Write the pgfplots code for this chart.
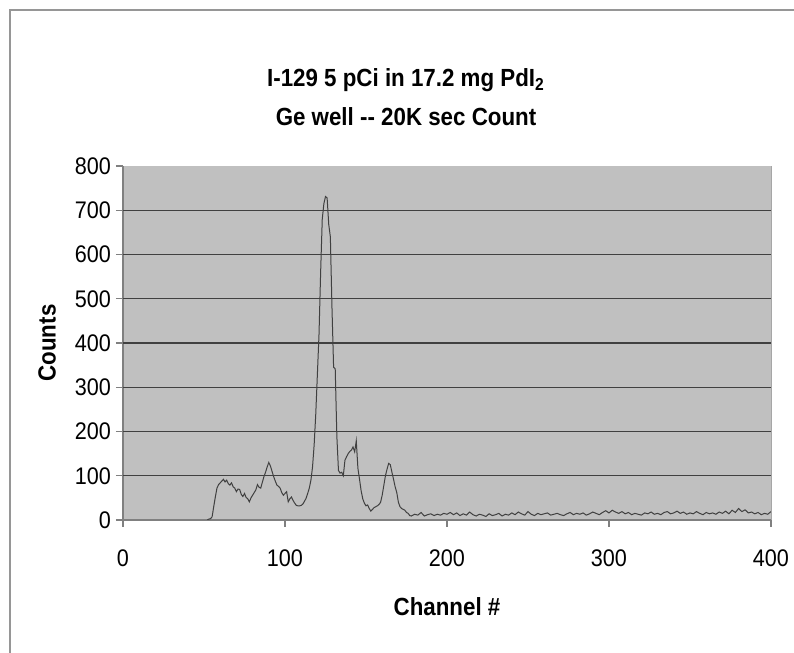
\documentclass[border=0pt]{standalone}
\usepackage{fontspec}
\setmainfont[FakeStretch=0.9]{Liberation Sans}
\usepackage{pgfplots}
\pgfplotsset{compat=1.18}
\definecolor{plotbg}{RGB}{192,192,192}
\definecolor{framegray}{RGB}{150,150,150}

\begin{document}
\begin{tikzpicture}
\begin{axis}[
    at={(0,0)}, anchor=south west,
    scale only axis,
    width=324pt, height=177pt,
    xmin=0, xmax=400, ymin=0, ymax=800,
    xtick={0,100,...,400}, ytick={0,100,...,800},
    extra y ticks={100,200,...,700},
    extra y tick labels={},
    extra y tick style={ymajorgrids=true, major tick length=0pt},
    axis lines=left,
    axis line style={-, draw=gray, line width=0.6pt},
    axis background/.style={fill=plotbg},
    major grid style={black!75, line width=0.7pt},
    tick align=outside,
    major tick length=3.5pt,
    tick style={gray, line width=0.6pt},
    ticklabel style={font=\fontsize{12}{14}\selectfont},
    /pgf/number format/assume math mode=true,
    xticklabel style={yshift=-8pt},
    yticklabel style={xshift=1pt},
    xlabel={\bfseries Channel \#},
    ylabel={\bfseries Counts},
    label style={font=\fontsize{12.4}{14}\selectfont},
    xlabel style={at={(axis description cs:0.5,0)}, anchor=center, yshift=-43.5pt},
    ylabel style={at={(axis description cs:-0.117,0.5)}, anchor=center},
    clip=true,
]
\addplot[black!75, line width=0.5pt] coordinates {
(52,0) (53,2) (54,3) (55,7) (56,30) (57,52) (58,72) (59,80) (60,84) (61,88)
(62,92) (63,86) (64,90) (65,82) (66,79) (67,84) (68,75) (69,72) (70,64) (71,70)
(72,69) (73,58) (74,53) (75,60) (76,51) (77,48) (78,41) (79,50) (80,56) (81,62)
(82,68) (83,80) (84,74) (85,72) (86,85) (87,98) (88,108) (89,120) (90,130) (91,122)
(92,110) (93,98) (94,88) (95,79) (96,76) (97,72) (98,62) (99,56) (100,60) (101,64)
(102,41) (103,48) (104,52) (105,44) (106,38) (107,33) (108,32) (109,32) (110,33) (111,36)
(112,42) (113,49) (114,60) (115,72) (116,90) (117,120) (118,170) (119,240) (120,330) (121,420)
(122,560) (123,680) (124,715) (125,731) (126,728) (127,668) (128,640) (129,480) (130,345) (131,342)
(132,190) (133,112) (134,106) (135,108) (136,100) (137,135) (138,143) (139,150) (140,155) (141,158)
(142,165) (143,154) (144,179) (145,117) (146,92) (147,66) (148,48) (149,38) (150,32) (151,34)
(152,26) (153,20) (154,24) (155,28) (156,30) (157,32) (158,35) (159,40) (160,56) (161,78)
(162,100) (163,115) (164,128) (165,125) (166,108) (167,92) (168,75) (169,62) (170,40) (171,30)
(172,26) (173,24) (174,22) (175,17) (176,15) (177,10) (178,9)
(180,13) (182,11) (184,17) (186,9) (188,12) (190,14) (192,10) (194,13) (196,11) (198,15)
(200,13) (202,17) (204,12) (206,16) (208,10) (210,14) (212,11) (214,18) (216,12) (218,9)
(220,13) (222,11) (224,8) (226,14) (228,10) (230,12) (232,15) (234,9) (236,13) (238,11)
(240,16) (242,12) (244,18) (246,14) (248,11) (250,19) (252,13) (254,10) (256,15) (258,12)
(260,14) (262,16) (264,11) (266,13) (268,15) (270,12) (272,10) (274,14) (276,17) (278,12)
(280,15) (282,13) (284,16) (286,11) (288,14) (290,18) (292,15) (294,12) (296,17) (298,21)
(300,16) (302,22) (304,18) (306,15) (308,19) (310,14) (312,17) (314,12) (316,15) (318,13)
(320,11) (322,16) (324,14) (326,18) (328,13) (330,15) (332,12) (334,17) (336,19) (338,14)
(340,16) (342,20) (344,15) (346,18) (348,13) (350,16) (352,14) (354,19) (356,15) (358,12)
(360,17) (362,14) (364,16) (366,13) (368,18) (370,15) (372,20) (374,14) (376,22) (378,17)
(380,26) (382,19) (384,23) (386,16) (388,18) (390,14) (392,17) (394,12) (396,15) (398,13)
(400,19)
};
\end{axis}
% light right border of the plot area
\draw[black!35, line width=0.5pt] (324pt,0pt) -- (324pt,177pt);
% chart frame (top and left visible)
\draw[framegray, line width=0.8pt] (-56.5pt,-70pt) -- (-56.5pt,255pt) -- (340pt,255pt);
% title
\node[font=\bfseries\fontsize{12.4}{14}\selectfont] at (141.5pt,220pt) {I-129 5 pCi in 17.2 mg PdI\textsubscript{2}};
\node[font=\bfseries\fontsize{12.4}{14}\selectfont] at (141.5pt,201.5pt) {Ge well -{}- 20K sec Count};
\pgfresetboundingbox
\path[use as bounding box] (-61.5pt,-66.5pt) rectangle (335.5pt,260pt);
\end{tikzpicture}
\end{document}
